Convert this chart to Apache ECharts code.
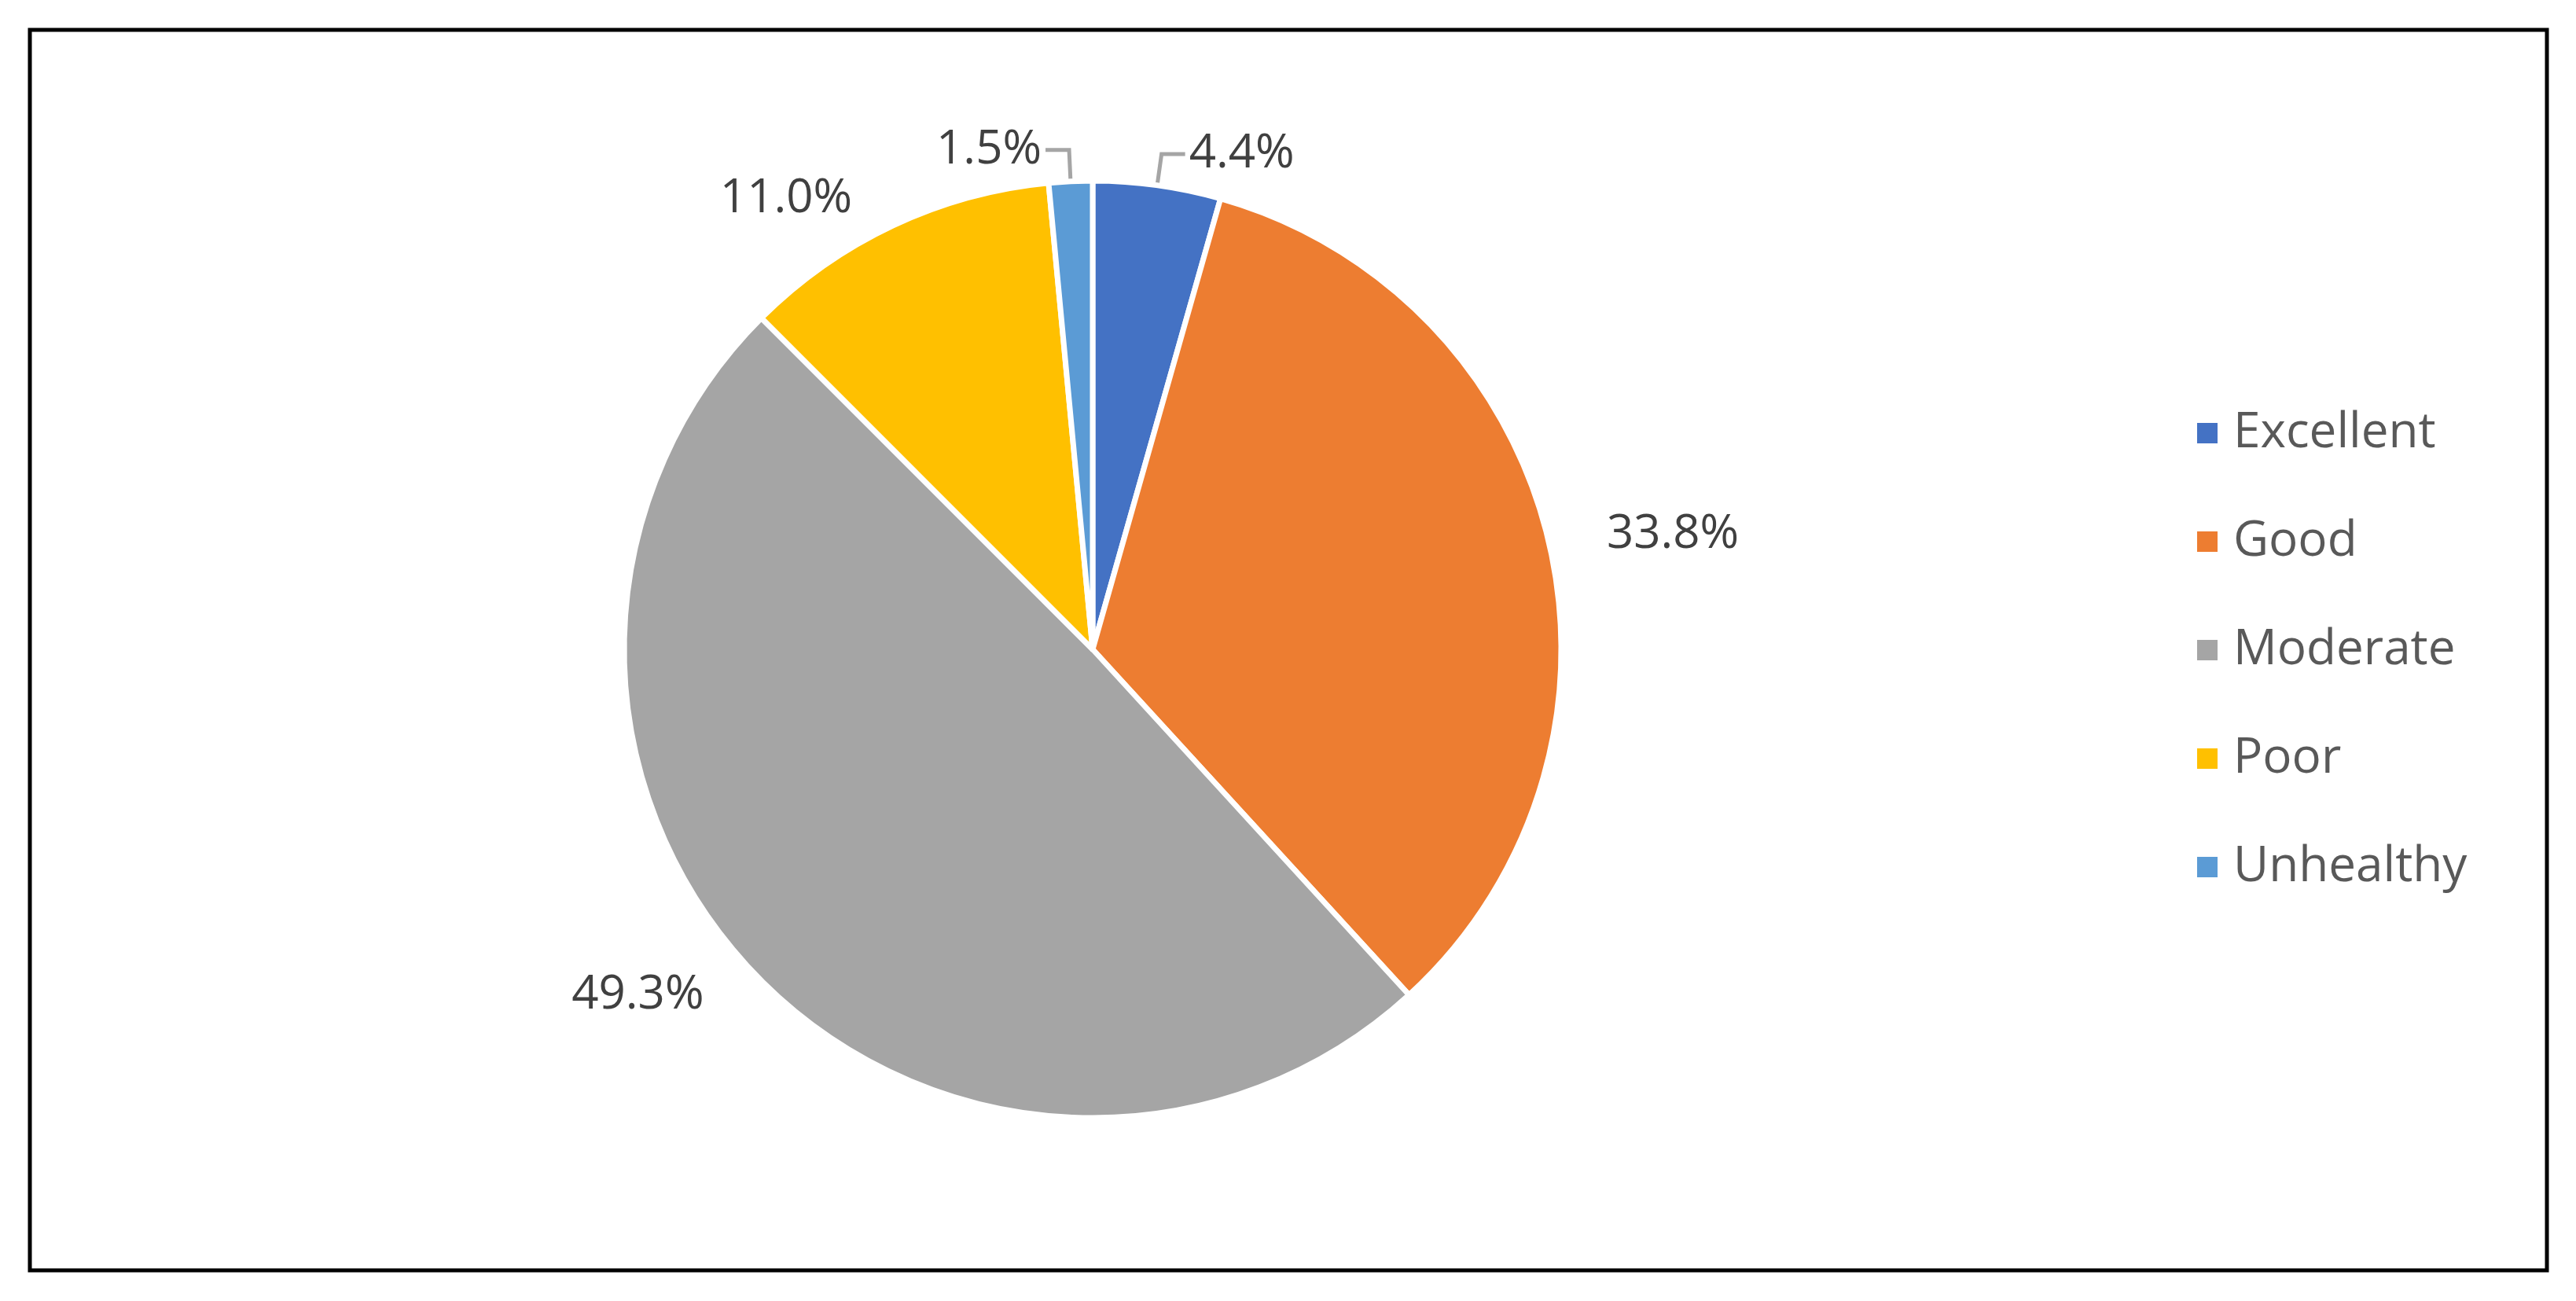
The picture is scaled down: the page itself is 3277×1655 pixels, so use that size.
<!DOCTYPE html>
<html>
<head>
<meta charset="utf-8">
<script src="https://cdn.jsdelivr.net/npm/echarts@6/dist/echarts.min.js"></script>
<style>html,body{margin:0;padding:0;background:#fff}#chart{width:3277px;height:1655px}</style>
</head>
<body>
<div id="chart"></div>
<script>
var categories = ['Excellent', 'Good', 'Moderate', 'Poor', 'Unhealthy'];
var values = [4.4, 33.8, 49.3, 11.0, 1.5];
var colors = ['#4472C4', '#ED7D31', '#A5A5A5', '#FFC000', '#5B9BD5'];
var showLine = [true, false, false, false, true];

var chart = echarts.init(document.getElementById('chart'));
var data = categories.map(function (c, i) {
  return {
    name: c,
    value: values[i],
    itemStyle: { color: colors[i] },
    labelLine: { show: showLine[i] }
  };
});
chart.setOption({
  animation: false,
  graphic: [{
    type: 'rect',
    shape: { x: 38, y: 38, width: 3202, height: 1578 },
    style: { fill: 'none', stroke: '#000', lineWidth: 5 }
  }],
  legend: {
    orient: 'vertical',
    left: 2788,
    top: 515,
    itemWidth: 28,
    itemHeight: 28,
    itemGap: 76,
    icon: 'rect',
    textStyle: { fontSize: 62, color: '#595959', fontFamily: 'Open Sans', padding: [0, 0, 0, 14] },
    data: categories
  },
  series: [{
    type: 'pie',
    center: [1390, 826],
    radius: 596,
    startAngle: 90,
    clockwise: true,
    itemStyle: { borderColor: '#fff', borderWidth: 7 },
    label: {
      show: true,
      position: 'outside',
      formatter: function (p) { return p.value.toFixed(1) + '%'; },
      fontSize: 60,
      color: '#404040',
      fontFamily: 'Open Sans'
    },
    labelLine: {
      length: 40,
      length2: 30,
      lineStyle: { color: '#A5A5A5', width: 5 }
    },
    data: data
  }]
});
</script>
</body>
</html>
